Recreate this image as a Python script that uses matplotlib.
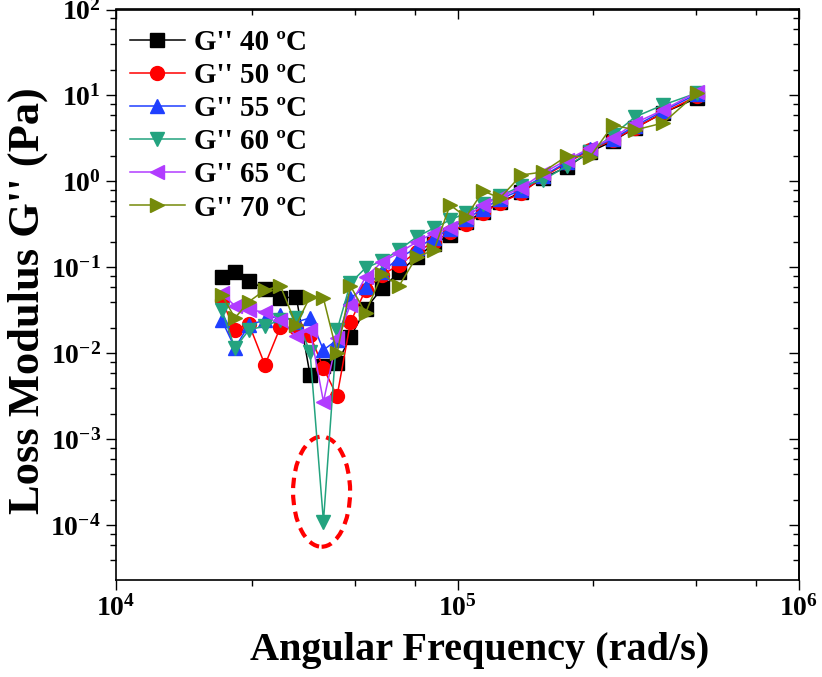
import matplotlib
matplotlib.use("Agg")
import matplotlib.pyplot as plt
from matplotlib.ticker import LogLocator, NullFormatter
from matplotlib.patches import Ellipse

# angular frequency (rad/s), shared by all runs
freq = [2.04e4, 2.23e4, 2.45e4, 2.73e4, 3.03e4, 3.37e4, 3.70e4, 4.05e4, 4.44e4,
        4.86e4, 5.38e4, 6.01e4, 6.74e4, 7.59e4, 8.54e4, 9.51e4, 1.059e5, 1.188e5,
        1.332e5, 1.539e5, 1.780e5, 2.092e5, 2.443e5, 2.853e5, 3.31e5, 4.00e5, 5.03e5]

# loss modulus G'' (Pa)
g40 = [0.0782, 0.0875, 0.0697, 0.0562, 0.0438, 0.0458, 0.00562, 0.00716, 0.00769,
       0.01555, 0.0329, 0.0573, 0.0875, 0.1325, 0.1876, 0.2387, 0.338, 0.442,
       0.570, 0.755, 1.098, 1.475, 2.203, 2.958, 4.19, 6.26, 9.35]
g50 = [0.0419, 0.01876, 0.0220, 0.00735, 0.0203, 0.0198, 0.0164, 0.00673, 0.00320,
       0.0232, 0.0547, 0.0818, 0.1069, 0.1514, 0.1979, 0.2587, 0.3204, 0.430,
       0.5623, 0.735, 1.128, 1.641, 2.324, 3.038, 4.19, 6.26, 9.87]
g55 = [0.0245, 0.01158, 0.02145, 0.0245, 0.0280, 0.0232, 0.0259, 0.01098, 0.01436,
       0.0442, 0.0593, 0.0886, 0.1289, 0.1685, 0.2203, 0.2803, 0.3664, 0.479,
       0.626, 0.797, 1.159, 1.686, 2.388, 3.121, 4.42, 6.60, 10.41]
g60 = [0.0320, 0.01149, 0.01876, 0.0209, 0.0245, 0.0259, 0.01041, 1.107e-4, 0.01876,
       0.0660, 0.0987, 0.1190, 0.1597, 0.2263, 0.2879, 0.3567, 0.430, 0.5475,
       0.678, 0.886, 1.041, 1.514, 2.203, 3.474, 5.63, 7.76, 10.70]
g65 = [0.0501, 0.0357, 0.0320, 0.0304, 0.0245, 0.01597, 0.01876, 0.00275, 0.01502,
       0.0366, 0.0775, 0.1159, 0.1475, 0.1979, 0.2518, 0.2879, 0.3866, 0.533,
       0.660, 0.840, 1.255, 1.778, 2.453, 3.205, 4.79, 6.78, 10.98]
g70 = [0.0479, 0.0259, 0.0400, 0.0547, 0.0609, 0.02145, 0.0458, 0.0438, 0.01005,
       0.0609, 0.0296, 0.0840, 0.0609, 0.1325, 0.1597, 0.533, 0.3866, 0.775,
       0.643, 1.190, 1.290, 1.980, 1.927, 4.54, 3.97, 4.79, 10.70]

labels = ["G'' 40 ºC", "G'' 50 ºC", "G'' 55 ºC", "G'' 60 ºC", "G'' 65 ºC", "G'' 70 ºC"]
colors = ['#000000', '#ff0000', '#1f3fff', '#23a37f', '#b13cff', '#758a0a']
markers = ['s', 'o', '^', 'v', '<', '>']

# the outlier circled in red
hl_freq = 4.0e4
hl_mod = 2.47e-4

plt.rcParams['font.family'] = ['Liberation Serif', 'DejaVu Serif']
plt.rcParams['font.weight'] = 'bold'
plt.rcParams['axes.labelweight'] = 'bold'
plt.rcParams['mathtext.fontset'] = 'custom'
plt.rcParams['mathtext.rm'] = 'Liberation Serif:bold'
plt.rcParams['mathtext.it'] = 'Liberation Serif:bold:italic'
plt.rcParams['mathtext.bf'] = 'Liberation Serif:bold'

fig = plt.figure(figsize=(8.22, 6.77), dpi=100)
ax = fig.add_axes([116 / 822, 1 - 580 / 677, 683 / 822, 570.5 / 677])

for vals, lab, col, mk in zip([g40, g50, g55, g60, g65, g70], labels, colors, markers):
    ax.plot(freq, vals, color=col, marker=mk, ms=10, lw=1.1, label=lab)

ax.set_xscale('log')
ax.set_yscale('log')
ax.set_xlim(1e4, 1e6)
ax.set_ylim(2.32e-5, 1e2)

ax.xaxis.set_major_locator(LogLocator(base=10, numticks=10))
ax.xaxis.set_minor_locator(LogLocator(base=10, subs=(2.5, 5, 7.5), numticks=10))
ax.yaxis.set_major_locator(LogLocator(base=10, numticks=20))
ax.yaxis.set_minor_locator(LogLocator(base=10, subs=(2, 4, 6, 8), numticks=20))
ax.xaxis.set_minor_formatter(NullFormatter())
ax.yaxis.set_minor_formatter(NullFormatter())
ax.tick_params(which='both', direction='out', width=1.0, labelsize=20)
ax.tick_params(which='major', length=7, pad=4)
ax.tick_params(which='minor', length=4)

# inward ticks on top and right, no labels
top = ax.secondary_xaxis('top')
top.xaxis.set_major_locator(LogLocator(base=10, numticks=10))
top.xaxis.set_minor_locator(LogLocator(base=10, subs=(2.5, 5, 7.5), numticks=10))
top.xaxis.set_major_formatter(NullFormatter())
top.xaxis.set_minor_formatter(NullFormatter())
top.tick_params(which='both', direction='in', width=1.0)
top.tick_params(which='major', length=7)
top.tick_params(which='minor', length=4)

right = ax.secondary_yaxis('right')
right.yaxis.set_major_locator(LogLocator(base=10, numticks=20))
right.yaxis.set_minor_locator(LogLocator(base=10, subs=(2, 4, 6, 8), numticks=20))
right.yaxis.set_major_formatter(NullFormatter())
right.yaxis.set_minor_formatter(NullFormatter())
right.tick_params(which='both', direction='in', width=1.0)
right.tick_params(which='major', length=7)
right.tick_params(which='minor', length=4)

for sp in list(ax.spines.values()) + [top.spines['top'], right.spines['right']]:
    sp.set_linewidth(1.2)

ax.set_xlabel('Angular Frequency (rad/s)', fontsize=29)
ax.xaxis.set_label_coords(0.533, -0.092)
ax.set_ylabel("Loss Modulus G'' (Pa)", fontsize=32)
ax.yaxis.set_label_coords(-0.1, 0.49)

# dashed ellipse around the outlier, size in axes fraction
cx, cy = ax.transAxes.inverted().transform(ax.transData.transform((hl_freq, hl_mod)))
ax.add_patch(Ellipse((cx, cy), 0.0835, 0.193, transform=ax.transAxes, fill=False,
                     edgecolor='#ff0000', lw=3, linestyle=(0, (2.5, 1.6))))

ax.legend(loc='upper left', bbox_to_anchor=(0.02, 0.966), frameon=False, fontsize=21,
          handlelength=1.9, handletextpad=0.3, labelspacing=0.21, borderpad=0,
          borderaxespad=0)

fig.savefig('out.png', dpi=100)
